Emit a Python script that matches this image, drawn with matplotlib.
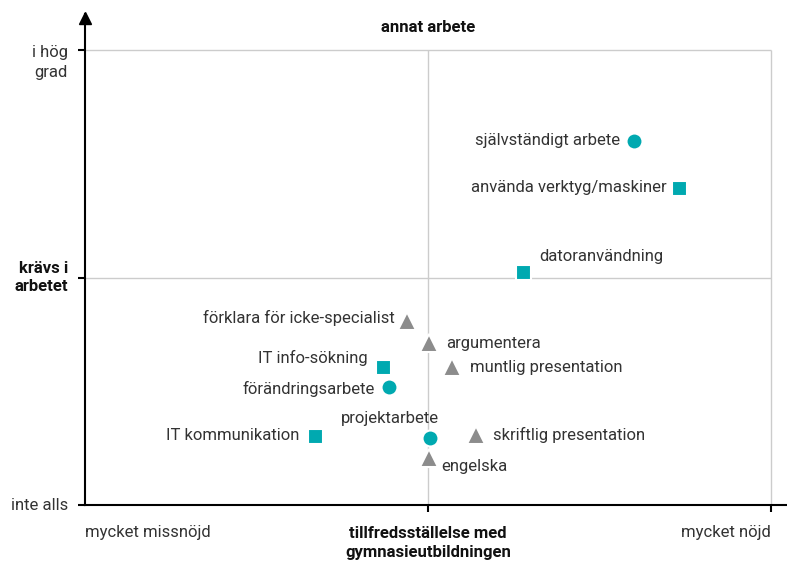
import numpy as np
import matplotlib
matplotlib.use("Agg")
from matplotlib import pyplot as plt

plt.rcParams['font.family'] = ['Roboto', 'DejaVu Sans']

# data: x = tillfredsställelse (0..1), y = krävs i arbetet (0..1)
labels = ["självständigt arbete", "använda verktyg/maskiner", "datoranvändning",
          "förklara för icke-specialist", "argumentera", "muntlig presentation",
          "IT info-sökning", "förändringsarbete", "IT kommunikation",
          "projektarbete", "skriftlig presentation", "engelska"]
x_vals = [0.800, 0.866, 0.638, 0.469, 0.501, 0.535, 0.434, 0.443, 0.335, 0.503, 0.570, 0.501]
y_vals = [0.800, 0.697, 0.512, 0.404, 0.356, 0.303, 0.303, 0.259, 0.152, 0.147, 0.154, 0.103]
groups = ["circle", "square", "square", "triangle", "triangle", "triangle",
          "square", "circle", "square", "circle", "triangle", "triangle"]

y_ticklabels = ["inte alls", "krävs i\narbetet", "i hög\ngrad"]
x_ticklabels = ["mycket missnöjd", "tillfredsställelse med\ngymnasieutbildningen", "mycket nöjd"]
top_label = "annat arbete"

# layout for the point labels: (dx, dy) in pixels and alignment
label_offsets = [(-14, 0, 'right'), (-12, 0, 'right'), (17, 16, 'left'),
                 (-12, 3, 'right'), (17, 0, 'left'), (18, 0, 'left'),
                 (-15, 9, 'right'), (-14, -2, 'right'), (-15, 0, 'right'),
                 (-40, 20, 'center'), (17, 0, 'left'), (13, -8, 'left')]

styles = {
    "circle": dict(marker='o', color='#00A9B0', ms=11.5),
    "square": dict(marker='s', color='#00A9B0', ms=10.8),
    "triangle": dict(marker='^', color='#8C8C8C', ms=12.5),
}

fs = 12
txt = '#333333'
dark = '#111111'
fig = plt.figure(figsize=(7.87, 5.63), dpi=100)
ax = fig.add_axes([85 / 787, 58 / 563, 702 / 787, 491 / 563])
ax.set_xlim(0, 702 / 686)
ax.set_ylim(0, 491 / 455)
py = 1 / 455  # one pixel in y data units

for s in ['top', 'right']:
    ax.spines[s].set_visible(False)
ax.spines['left'].set_linewidth(1.5)
ax.spines['bottom'].set_linewidth(1.5)

# grid lines, only inside the 0..1 box
ax.vlines([0.5, 1.0], 0, 1, color='#CCCCCC', lw=1, zorder=0)
ax.hlines([0.5, 1.0], 0, 1, color='#CCCCCC', lw=1, zorder=0)

# arrow at the top of the y axis
ax.plot([0], [491 / 455 - 4 * py], marker='^', color='black', ms=8, clip_on=False)

ax.set_yticks([0, 0.5, 1.0])
ax.set_yticklabels([])
ax.set_xticks([0.5, 1.0])
ax.set_xticklabels([])
ax.tick_params(axis='both', length=5, width=1.5, color='black')

# y tick labels
ax.text(-0.025, 1.0 + 10 * py - 5 * py, y_ticklabels[2], ha='right', va='top', fontsize=fs,
        color=txt, linespacing=1.4)
ax.text(-0.025, 0.5, y_ticklabels[1], ha='right', va='center', fontsize=fs, color=dark,
        fontweight='bold', linespacing=1.3)
ax.text(-0.025, 0.0, y_ticklabels[0], ha='right', va='center', fontsize=fs, color=txt)

# x labels
ax.text(0.0, -27 * py, x_ticklabels[0], ha='left', va='center', fontsize=fs, color=txt, clip_on=False)
ax.text(0.5, -21 * py, x_ticklabels[1], ha='center', va='top', fontsize=fs, color=dark,
        fontweight='bold', linespacing=1.3, clip_on=False)
ax.text(1.0, -27 * py, x_ticklabels[2], ha='right', va='center', fontsize=fs, color=txt, clip_on=False)

ax.text(0.5, 1.0 + 22 * py, top_label, ha='center', va='center', fontsize=fs,
        fontweight='bold', color=dark)

for lab, x, y, g, (dx, dy, ha) in zip(labels, x_vals, y_vals, groups, label_offsets):
    st = styles[g]
    ax.plot(x, y, linestyle='none', marker=st['marker'], color=st['color'],
            markersize=st['ms'], markeredgecolor='white', markeredgewidth=1.5, zorder=3)
    ax.annotate(lab, (x, y), xytext=(dx * 0.72, dy * 0.72), textcoords='offset points',
                ha=ha, va='center', fontsize=fs, color=txt)

plt.savefig("out.png", dpi=100)
plt.close(fig)
